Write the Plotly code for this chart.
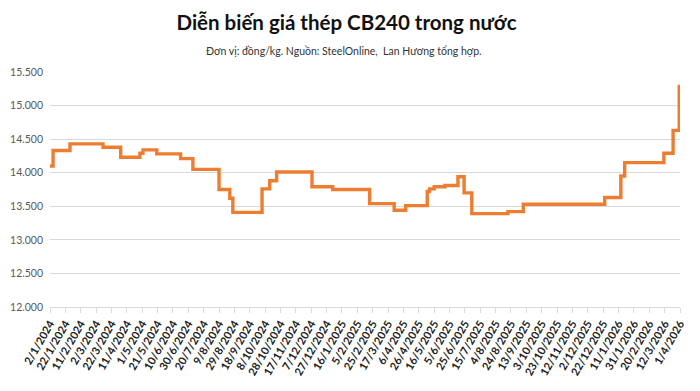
import plotly.graph_objects as go
from datetime import datetime

# Step-change dates (d/m/yyyy) and prices (đồng/kg)
change_dates = [
    "2/1/2024", "6/1/2024", "28/1/2024", "11/3/2024", "3/4/2024", "28/4/2024",
    "2/5/2024", "20/5/2024", "20/6/2024", "6/7/2024", "9/8/2024", "23/8/2024",
    "27/8/2024", "4/10/2024", "14/10/2024", "23/10/2024", "8/12/2024", "4/1/2025",
    "21/2/2025", "25/3/2025", "9/4/2025", "7/5/2025", "10/5/2025", "16/5/2025",
    "30/5/2025", "16/6/2025", "24/6/2025", "4/7/2025", "20/8/2025", "9/9/2025",
    "24/12/2025", "14/1/2026", "19/1/2026", "11/3/2026", "23/3/2026", "31/3/2026",
]
prices = [
    14100, 14330, 14430, 14380, 14230, 14290,
    14340, 14280, 14210, 14050, 13750, 13620,
    13410, 13760, 13880, 14010, 13790, 13750,
    13540, 13440, 13510, 13720, 13760, 13790,
    13810, 13940, 13700, 13390, 13420, 13530,
    13630, 13950, 14150, 14290, 14630, 15310,
]

tick_labels = [
    "2/1/2024", "22/1/2024", "11/2/2024", "2/3/2024", "22/3/2024", "11/4/2024",
    "1/5/2024", "21/5/2024", "10/6/2024", "30/6/2024", "20/7/2024", "9/8/2024",
    "29/8/2024", "18/9/2024", "8/10/2024", "28/10/2024", "17/11/2024", "7/12/2024",
    "27/12/2024", "16/1/2025", "5/2/2025", "25/2/2025", "17/3/2025", "6/4/2025",
    "26/4/2025", "16/5/2025", "5/6/2025", "25/6/2025", "15/7/2025", "4/8/2025",
    "24/8/2025", "13/9/2025", "3/10/2025", "23/10/2025", "12/11/2025", "2/12/2025",
    "22/12/2025", "11/1/2026", "31/1/2026", "20/2/2026", "12/3/2026", "1/4/2026",
]

y_ticks = [12000, 12500, 13000, 13500, 14000, 14500, 15000, 15500]

def parse(s):
    return datetime.strptime(s, "%d/%m/%Y")

x_vals = [parse(d) for d in change_dates]
tick_vals = [parse(d) for d in tick_labels]

fig = go.Figure()
fig.add_trace(go.Scatter(
    x=x_vals, y=prices, mode="lines",
    line=dict(color="#ED7D31", width=3.4, shape="hv"),
    hoverinfo="skip",
))

fig.update_layout(
    width=700, height=391,
    margin=dict(l=50, r=20, t=72, b=84, autoexpand=False),
    paper_bgcolor="white", plot_bgcolor="white",
    separators=",.",
    showlegend=False,
    title=dict(
        text="<b>Diễn biến giá thép CB240 trong nước</b>",
        x=0.495, xanchor="center", y=1 - 23 / 391, yanchor="middle",
        font=dict(family="Lato", size=20.5, color="#111111"),
    ),
    annotations=[dict(
        text="Đơn vị: đồng/kg. Nguồn: SteelOnline,  Lan Hương tổng hợp.",
        xref="paper", yref="paper", x=(343.5 - 50) / 630, y=1 + (72 - 51) / 235,
        xanchor="center", yanchor="middle", showarrow=False,
        font=dict(family="Lato", size=10.5, color="#333333"),
    )],
)

fig.update_xaxes(
    type="date", automargin=False,
    range=[tick_vals[0], tick_vals[-1]],
    tickmode="array", tickvals=tick_vals, ticktext=tick_labels,
    tickangle=-60,
    tickfont=dict(family="Lato", size=11, color="#222222", weight="bold"),
    showgrid=False, zeroline=False,
    showline=True, linecolor="#d9d9d9", linewidth=1,
    ticks="outside", ticklen=5, tickcolor="#d9d9d9",
)
fig.update_yaxes(
    automargin=False,
    range=[12000, 15500],
    tickmode="array", tickvals=y_ticks,
    tickformat=",.0f",
    tickfont=dict(family="Lato", size=10.5, color="#595959"),
    showgrid=True, gridcolor="#d9d9d9", gridwidth=1,
    zeroline=False, showline=False,
    ticklabelstandoff=6,
)

fig.write_html(
    "out.html",
    config={"displayModeBar": False, "staticPlot": True},
    post_script="document.body.style.margin='0';",
)
